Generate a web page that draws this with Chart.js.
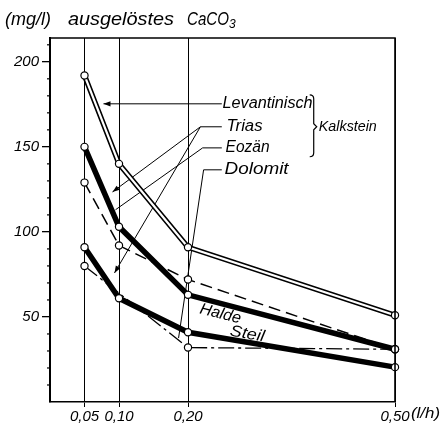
<!DOCTYPE html>
<html><head><meta charset="utf-8">
<script src="https://cdn.jsdelivr.net/npm/chart.js@4.4.1/dist/chart.umd.min.js"></script>
<style>html,body{margin:0;padding:0;background:#fff}#wrap{width:445px;height:433px}</style>
</head><body><div id="wrap"><canvas id="c" width="445" height="433"></canvas></div>
<script>
// ---- data ----
const xValues = [0.05, 0.10, 0.20, 0.50];
const xTickLabels = ['0,05', '0,10', '0,20', '0,50'];
const yTickValues = [50, 100, 150, 200];
const yMinorTicks = [10, 20, 30, 40, 60, 70, 80, 90, 110, 120, 130, 140, 160, 170, 180, 190, 210];
const levantinisch = [192, 140, 91, 51];
const halde = [150, 103, 63, 31];
const eozaen = [129, 92, 72, 31];
const dolomitX = [0.05, 0.20, 0.50];
const dolomit = [80, 32, 31];
const steil = [91, 61, 41, 20.5];

const pts = (xs, ys) => xs.map((x, i) => ({ x: x, y: ys[i] }));
const FONT = '"Liberation Sans", Arial, sans-serif';

// annotation layout in data units
const leaderY = { lev: 175.3, trias: 161.8, eoz: 149.4, dol: 136.5 };
const labelX = 0.253;

function arrowHead(ctx, x1, y1, x2, y2) {
  const a = Math.atan2(y2 - y1, x2 - x1), L = 7, W = 2.6;
  ctx.beginPath();
  ctx.moveTo(x2, y2);
  ctx.lineTo(x2 - L * Math.cos(a) + W * Math.sin(a), y2 - L * Math.sin(a) - W * Math.cos(a));
  ctx.lineTo(x2 - L * Math.cos(a) - W * Math.sin(a), y2 - L * Math.sin(a) + W * Math.cos(a));
  ctx.closePath(); ctx.fill();
}
function fitText(ctx, text, x, y, size, target, rot) {
  ctx.save();
  ctx.font = 'italic ' + size + 'px ' + FONT;
  const w = ctx.measureText(text).width;
  let sx = target ? target / w : 1;
  sx = Math.max(0.75, Math.min(1.25, sx));
  ctx.translate(x, y);
  if (rot) ctx.rotate(rot);
  ctx.scale(sx, 1);
  ctx.textBaseline = 'middle';
  ctx.fillText(text, 0, 0);
  ctx.restore();
}

const deco = {
  id: 'deco',
  beforeDatasetsDraw(chart) {
    const ctx = chart.ctx, X = chart.scales.x, Y = chart.scales.y;
    const px = v => X.getPixelForValue(v), py = v => Y.getPixelForValue(v);
    ctx.save();
    ctx.strokeStyle = '#000'; ctx.fillStyle = '#000'; ctx.lineWidth = 1;
    const seg = (a, b, c, d, arrow) => {
      ctx.beginPath(); ctx.moveTo(px(a), py(b)); ctx.lineTo(px(c), py(d)); ctx.stroke();
      if (arrow) arrowHead(ctx, px(a), py(b), px(c), py(d));
    };
    // Levantinisch
    seg(0.2490, leaderY.lev, 0.0775, leaderY.lev, true);
    // Trias
    seg(0.2490, leaderY.trias, 0.218, leaderY.trias);
    seg(0.218, leaderY.trias, 0.0906, 123.5, true);
    seg(0.218, leaderY.trias, 0.0935, 75.9, true);
    // Eozän
    seg(0.2490, leaderY.eoz, 0.2212, leaderY.eoz);
    seg(0.2212, leaderY.eoz, 0.0949, 113);
    // Dolomit
    seg(0.2490, leaderY.dol, 0.2226, leaderY.dol);
    seg(0.2226, leaderY.dol, 0.1863, 37.6);
    ctx.restore();
  },
  afterDraw(chart) {
    const ctx = chart.ctx, X = chart.scales.x, Y = chart.scales.y, a = chart.chartArea;
    const px = v => X.getPixelForValue(v), py = v => Y.getPixelForValue(v);
    ctx.save();
    ctx.strokeStyle = '#000'; ctx.fillStyle = '#000';
    // frame top & right
    ctx.lineWidth = 1.6;
    ctx.beginPath();
    ctx.moveTo(a.left, a.top); ctx.lineTo(a.right, a.top); ctx.lineTo(a.right, a.bottom);
    ctx.stroke();
    // minor y ticks
    ctx.lineWidth = 1.2;
    yMinorTicks.forEach(v => {
      ctx.beginPath(); ctx.moveTo(a.left, py(v)); ctx.lineTo(a.left - 3, py(v)); ctx.stroke();
    });
    // series labels
    fitText(ctx, 'Levantinisch', px(labelX) - 2, py(leaderY.lev), 16, 90);
    fitText(ctx, 'Trias', px(labelX) + 2, py(leaderY.trias), 16, 36);
    fitText(ctx, 'Eozän', px(labelX) + 1, py(leaderY.eoz), 16, 44);
    fitText(ctx, 'Dolomit', px(labelX), py(leaderY.dol), 16, 64);
    // brace
    const bx = px(0.3822), bt = py(180.6), bb = py(144.2), bm = py(161.8);
    ctx.lineWidth = 1.2;
    ctx.beginPath();
    ctx.moveTo(bx - 4, bt); ctx.quadraticCurveTo(bx, bt, bx, bt + 4);
    ctx.lineTo(bx, bm - 3); ctx.lineTo(bx + 3, bm); ctx.lineTo(bx, bm + 3);
    ctx.lineTo(bx, bb - 4); ctx.quadraticCurveTo(bx, bb, bx - 4, bb);
    ctx.stroke();
    fitText(ctx, 'Kalkstein', px(0.3896), py(161.8), 15, 58);
    // curve names on the chart
    fitText(ctx, 'Halde', px(0.2174), py(54.7), 16, 42, 14 * Math.PI / 180);
    fitText(ctx, 'Steil', px(0.261), py(41.7), 16, 35, 10 * Math.PI / 180);
    // unit of x axis
    fitText(ctx, '(l/h)', px(0.5) + 16, 414, 15, 29);
    // title
    fitText(ctx, '(mg/l)', 5, 20, 19, 46);
    fitText(ctx, 'ausgelöstes', 68, 20, 19, 106);
    fitText(ctx, 'CaCO', 187, 20, 19, 42);
    fitText(ctx, '3', 229, 25, 12, 0);
    ctx.restore();
  }
};

const circle = { pointRadius: 3.6, pointHoverRadius: 3.6, pointBackgroundColor: '#fff', pointBorderColor: '#000', pointBorderWidth: 1.2 };

new Chart(document.getElementById('c'), {
  type: 'line',
  data: {
    datasets: [
      Object.assign({ label: 'Levantinisch', data: pts(xValues, levantinisch), borderColor: '#fff', borderWidth: 2.2, order: 0 }, circle),
      { label: 'Levantinisch outline', data: pts(xValues, levantinisch), borderColor: '#000', borderWidth: 5.4, pointRadius: 0, order: 1 },
      Object.assign({ label: 'Halde', data: pts(xValues, halde), borderColor: '#000', borderWidth: 5.5, order: 2 }, circle),
      Object.assign({ label: 'Eozän', data: pts(xValues, eozaen), borderColor: '#000', borderWidth: 1.5, borderDash: [12, 6], order: 3 }, circle),
      Object.assign({ label: 'Steil', data: pts(xValues, steil), borderColor: '#000', borderWidth: 5.5, order: 4 }, circle),
      Object.assign({ label: 'Dolomit', data: pts(dolomitX, dolomit), borderColor: '#000', borderWidth: 1.3, borderDash: [16, 4, 3, 4], order: 5 }, circle)
    ]
  },
  options: {
    responsive: false,
    animation: false,
    devicePixelRatio: 1,
    layout: { padding: { top: 38, right: 50, left: 0, bottom: 0 } },
    plugins: { legend: { display: false }, tooltip: { enabled: false } },
    elements: { line: { tension: 0, fill: false } },
    datasets: { line: { clip: false } },
    scales: {
      x: {
        type: 'linear', min: 0, max: 0.5,
        afterBuildTicks: s => { s.ticks = xValues.map(v => ({ value: v })); },
        afterFit: s => { s.height = 31; },
        ticks: {
          autoSkip: false, maxRotation: 0, padding: 1, color: '#000',
          font: { family: FONT, size: 15, style: 'italic' },
          callback: v => xTickLabels[xValues.indexOf(v)]
        },
        grid: { color: '#000', lineWidth: 1, tickLength: 5, drawOnChartArea: true },
        border: { display: true, color: '#000', width: 1.6 }
      },
      y: {
        type: 'linear', min: 0, max: 214,
        afterBuildTicks: s => { s.ticks = yTickValues.map(v => ({ value: v })); },
        afterFit: s => { s.width = 50; },
        ticks: {
          padding: 3, color: '#000',
          font: { family: FONT, size: 15, style: 'italic' }
        },
        grid: { drawOnChartArea: false, color: '#000', tickLength: 8, lineWidth: 1.3 },
        border: { display: true, color: '#000', width: 2 }
      }
    }
  },
  plugins: [deco]
});
</script>
</body></html>
